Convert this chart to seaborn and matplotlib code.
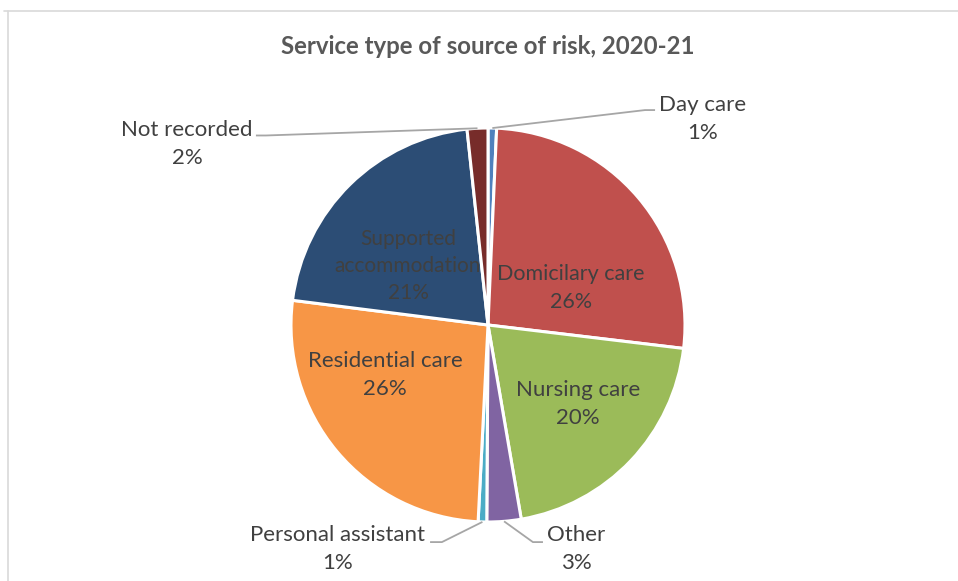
import matplotlib
matplotlib.use("Agg")
import matplotlib.pyplot as plt
from matplotlib.lines import Line2D
import numpy as np
import seaborn as sns

sns.set_theme(style="white")
plt.rcParams["font.family"] = ["Lato", "DejaVu Sans"]

# Share of safeguarding concerns by service type of the source of risk (%)
categories = ["Day care", "Domicilary care", "Nursing care", "Other",
              "Personal assistant", "Residential care",
              "Supported accommodation", "Not recorded"]
shares = [0.7, 26.2, 20.4, 2.8, 0.7, 26.2, 21.3, 1.7]
label_text = ["Day care", "Domicilary care", "Nursing care", "Other",
              "Personal assistant", "Residential care",
              "Supported\naccommodation", "Not recorded"]

colors = ["#4F81BD", "#C0504D", "#9BBB59", "#8064A2",
          "#4BACC6", "#F79646", "#2C4D75", "#772C2A"]

TEXT = "#404040"
LEADER = "#A6A6A6"

# label placement (axis units, pie radius = 1)
label_pos = [(1.091, 1.046), (0.421, 0.188), (0.457, -0.401), (0.447, -1.137),
             (-0.766, -1.137), (-0.523, -0.254), (-0.406, 0.299), (-1.528, 0.919)]
label_size = [16, 15.5, 16, 16, 16, 16, 15, 16]
outside = [True, False, False, True, True, False, False, True]
# leader line end points (after the slice edge)
leader_pts = {
    0: [(0.797, 1.091), (0.848, 1.091)],
    3: [(0.228, -1.102), (0.279, -1.102)],
    4: [(-0.234, -1.102), (-0.294, -1.102)],
    7: [(-1.128, 0.962), (-1.178, 0.962)],
}

W, H, DPI = 958, 581, 100
fig = plt.figure(figsize=(W / DPI, H / DPI), dpi=DPI)
ax = fig.add_axes([0, 0, 1, 1])
R_PX = 197.0
CX, CY = 488.0, 325.0

wedges, _ = ax.pie(shares, colors=colors, startangle=90, counterclock=False,
                   radius=1.0, center=(0, 0),
                   wedgeprops=dict(edgecolor="white", linewidth=2.2))

ax.set_xlim(-CX / R_PX, (W - CX) / R_PX)
ax.set_ylim((CY - H) / R_PX, CY / R_PX)
ax.set_aspect("equal", adjustable="box")
ax.axis("off")

total = sum(shares)
for i, w in enumerate(wedges):
    pct = round(shares[i] / total * 100)
    txt = f"{label_text[i]}\n{pct}%"
    x, y = label_pos[i]
    ax.text(x, y, txt, ha="center", va="center", fontsize=label_size[i],
            color=TEXT, linespacing=1.45)
    if outside[i]:
        mid = np.deg2rad((w.theta1 + w.theta2) / 2)
        pts = [(np.cos(mid), np.sin(mid))] + leader_pts[i]
        xs, ys = zip(*pts)
        ax.plot(xs, ys, color=LEADER, lw=1.3, solid_capstyle="butt")

ax.text(0, (CY - 47) / R_PX, "Service type of source of risk, 2020-21",
        ha="center", va="center", fontsize=17.3, fontweight="bold",
        color="#595959")

# chart area frame
fig.add_artist(Line2D([4 / W, 1], [1 - 11 / H, 1 - 11 / H],
                      color="#D9D9D9", lw=1.2, transform=fig.transFigure))
fig.add_artist(Line2D([8 / W, 8 / W], [0, 1 - 11 / H],
                      color="#D9D9D9", lw=1.2, transform=fig.transFigure))

fig.savefig("out.png", dpi=DPI, facecolor="white")
